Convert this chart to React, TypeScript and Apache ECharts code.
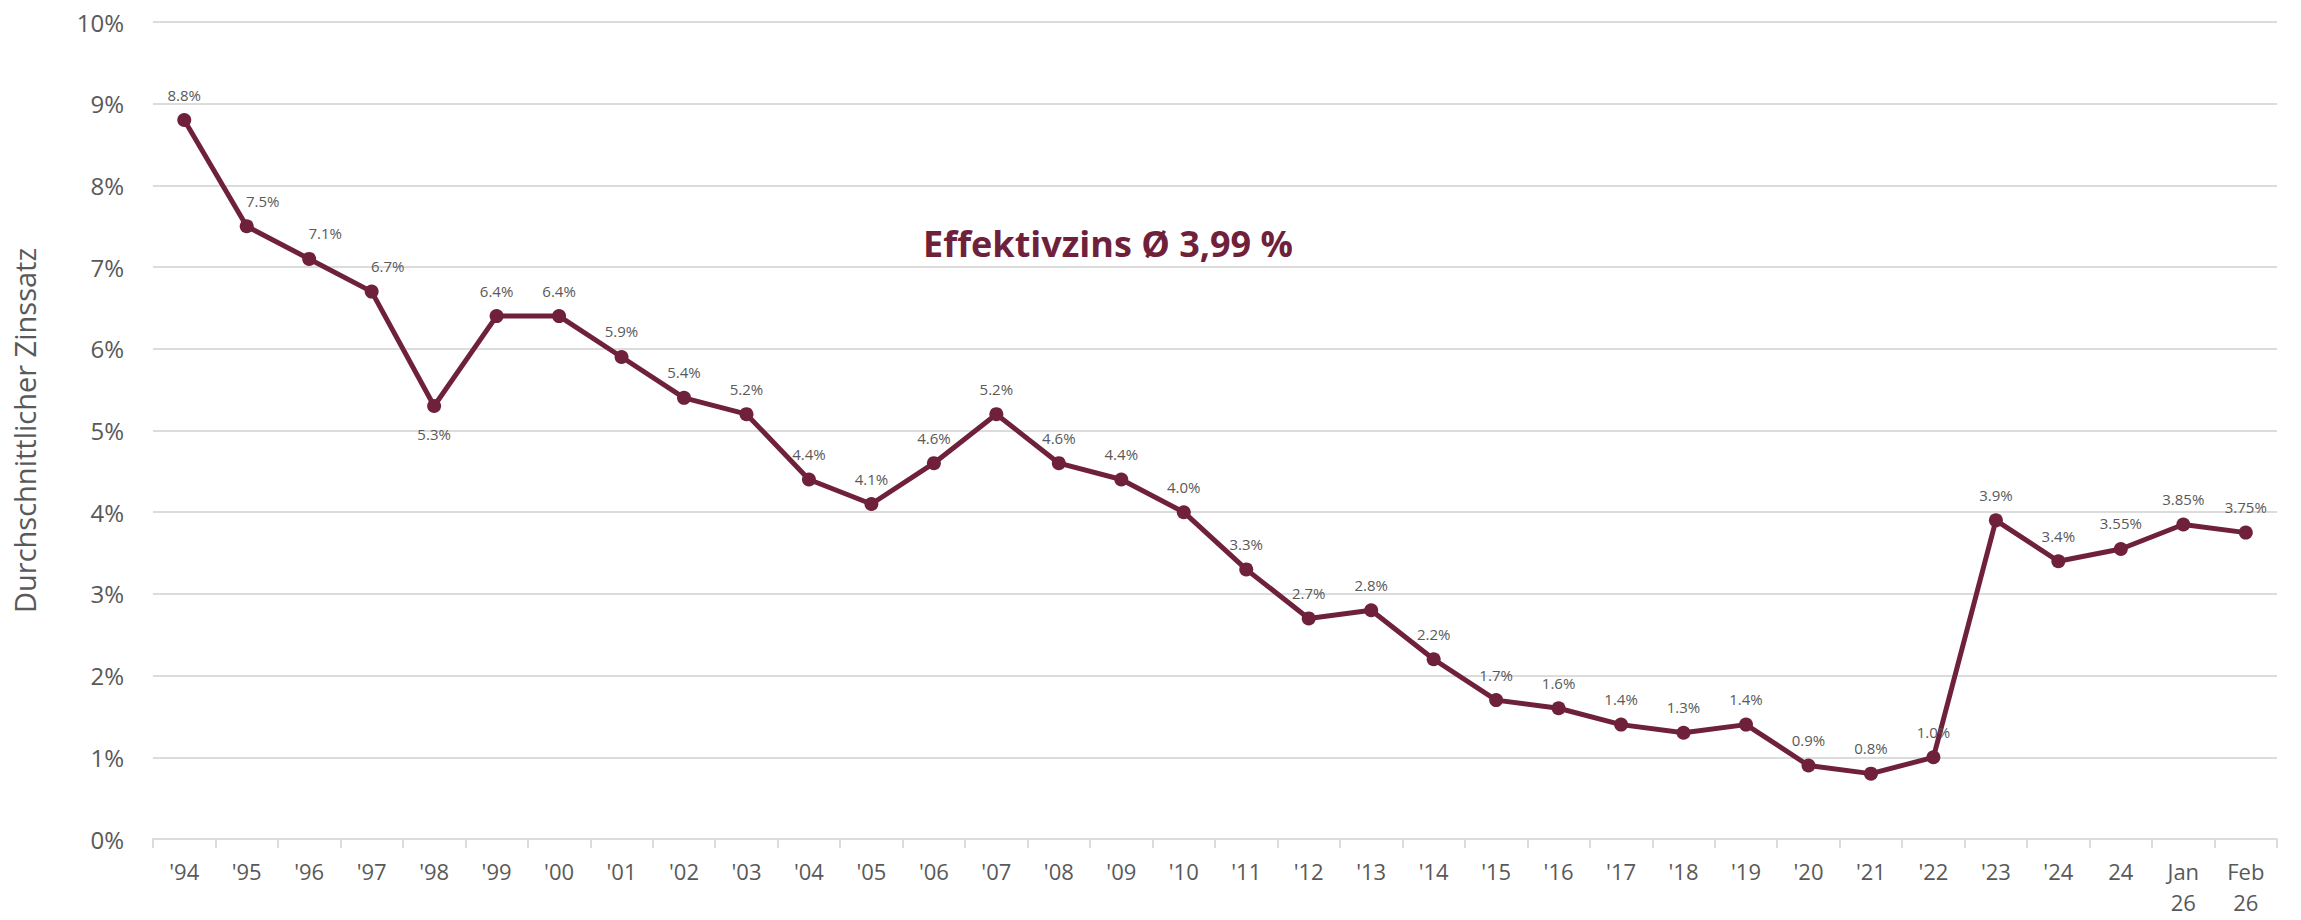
import React, { useEffect, useRef } from "react";
import * as echarts from "echarts";

const categories: string[] = [
  "'94", "'95", "'96", "'97", "'98", "'99", "'00", "'01", "'02", "'03",
  "'04", "'05", "'06", "'07", "'08", "'09", "'10", "'11", "'12", "'13",
  "'14", "'15", "'16", "'17", "'18", "'19", "'20", "'21", "'22", "'23",
  "'24", "24", "Jan\n26", "Feb\n26",
];

const rates: number[] = [
  8.8, 7.5, 7.1, 6.7, 5.3, 6.4, 6.4, 5.9, 5.4, 5.2,
  4.4, 4.1, 4.6, 5.2, 4.6, 4.4, 4.0, 3.3, 2.7, 2.8,
  2.2, 1.7, 1.6, 1.4, 1.3, 1.4, 0.9, 0.8, 1.0, 3.9,
  3.4, 3.55, 3.85, 3.75,
];

const rateLabels: string[] = [
  "8.8%", "7.5%", "7.1%", "6.7%", "5.3%", "6.4%", "6.4%", "5.9%", "5.4%", "5.2%",
  "4.4%", "4.1%", "4.6%", "5.2%", "4.6%", "4.4%", "4.0%", "3.3%", "2.7%", "2.8%",
  "2.2%", "1.7%", "1.6%", "1.4%", "1.3%", "1.4%", "0.9%", "0.8%", "1.0%", "3.9%",
  "3.4%", "3.55%", "3.85%", "3.75%",
];

const yTicks = { min: 0, max: 10, interval: 1 };
const titleText = "Effektivzins Ø 3,99 %";
const yAxisName = "Durchschnittlicher Zinssatz";

const LINE_COLOR = "#6f213c";
const TEXT_COLOR = "#595959";
const GRID_COLOR = "#dcdcdc";
const FONT = "'Open Sans', 'Noto Sans', sans-serif";

export default function App() {
  const ref = useRef<HTMLDivElement>(null);

  useEffect(() => {
    document.body.style.margin = "0";
    if (!ref.current) return;
    const chart = echarts.init(ref.current, undefined, { renderer: "svg" });

    const seriesData = rates.map((v, i) => {
      const item: any = { value: v };
      if (i === 4) {
        item.label = { position: "bottom", distance: 14 };
      } else if (i >= 1 && i <= 3) {
        item.label = { offset: [16, 0] };
      }
      return item;
    });

    chart.setOption({
      animation: false,
      backgroundColor: "#ffffff",
      grid: { left: 153, right: 24, top: 22, bottom: 81, containLabel: false },
      xAxis: {
        type: "category",
        data: categories,
        boundaryGap: true,
        axisLine: { show: true, lineStyle: { color: GRID_COLOR, width: 2 } },
        axisTick: { show: true, alignWithLabel: false, length: 9, lineStyle: { color: GRID_COLOR, width: 2 } },
        axisLabel: {
          color: TEXT_COLOR,
          fontSize: 22,
          fontFamily: FONT,
          margin: 16,
          lineHeight: 31,
          interval: 0,
        },
      },
      yAxis: {
        type: "value",
        min: yTicks.min,
        max: yTicks.max,
        interval: yTicks.interval,
        name: yAxisName,
        nameLocation: "middle",
        nameGap: 114,
        nameTextStyle: { color: TEXT_COLOR, fontSize: 29, fontFamily: FONT },
        axisLine: { show: false },
        axisTick: { show: false },
        splitLine: { show: true, lineStyle: { color: GRID_COLOR, width: 2 } },
        axisLabel: {
          color: TEXT_COLOR,
          fontSize: 24,
          fontFamily: FONT,
          margin: 29,
          formatter: "{value}%",
        },
      },
      graphic: [
        {
          type: "text",
          x: 1108,
          y: 243,
          style: {
            text: titleText,
            fill: LINE_COLOR,
            font: `bold 36px ${FONT}`,
            textAlign: "center",
            textVerticalAlign: "middle",
          },
        },
      ],
      series: [
        {
          type: "line",
          data: seriesData,
          symbol: "circle",
          symbolSize: 14,
          lineStyle: { color: LINE_COLOR, width: 5 },
          itemStyle: { color: LINE_COLOR },
          label: {
            show: true,
            position: "top",
            distance: 11,
            color: TEXT_COLOR,
            fontSize: 15,
            fontFamily: FONT,
            formatter: (p: any) => rateLabels[p.dataIndex],
          },
          z: 3,
        },
      ],
    });

    return () => chart.dispose();
  }, []);

  return <div ref={ref} style={{ width: 2301, height: 920 }} />;
}
